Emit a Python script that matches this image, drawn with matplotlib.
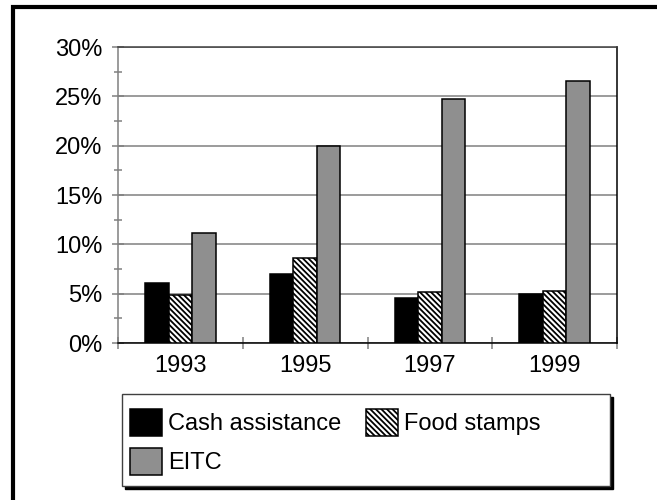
import matplotlib.pyplot as plt
import numpy as np
from matplotlib.lines import Line2D
from matplotlib.patches import Rectangle
from matplotlib.ticker import MultipleLocator, FuncFormatter

# данные с графика
years = ['1993', '1995', '1997', '1999']
cash = [6.1, 7.0, 4.6, 5.0]
food = [4.9, 8.6, 5.2, 5.3]
eitc = [11.1, 20.0, 24.7, 26.6]

plt.rcParams['font.family'] = ['Liberation Sans', 'DejaVu Sans']
plt.rcParams['hatch.linewidth'] = 1.3

W, H = 657, 500
fig = plt.figure(figsize=(W / 100, H / 100), dpi=100)
ax = fig.add_axes([118 / W, 1 - 343 / H, (617 - 118) / W, (343 - 47) / H])

x = np.arange(len(years))
bw = 0.188
b1 = ax.bar(x - bw, cash, bw, color='black', edgecolor='black', linewidth=1.1, zorder=3)
b2 = ax.bar(x, food, bw, color='white', edgecolor='black', linewidth=1.1,
            hatch='\\' * 6, zorder=3)
b3 = ax.bar(x + bw, eitc, bw, color='#8f8f8f', edgecolor='black', linewidth=1.1, zorder=3)

ax.set_xlim(-0.5, len(years) - 0.5)
ax.set_ylim(0, 30)

# оси и сетка
ax.yaxis.set_major_locator(MultipleLocator(5))
ax.yaxis.set_minor_locator(MultipleLocator(2.5))
ax.yaxis.set_major_formatter(FuncFormatter(lambda v, p: f'{v:.0f}%'))
ax.grid(axis='y', color='#808080', linewidth=1.1)
ax.set_axisbelow(True)

ax.set_xticks(x)
ax.set_xticklabels(years)
ax.set_xticks(np.arange(-0.5, len(years)), minor=True)
ax.tick_params(axis='x', which='major', length=0, pad=9, labelsize=17)
ax.tick_params(axis='x', which='minor', direction='inout', length=8,
               color='#808080', width=1.1)
ax.tick_params(axis='y', which='major', direction='inout', length=8, pad=7,
               color='#808080', width=1.1, labelsize=17)
ax.tick_params(axis='y', which='minor', direction='inout', length=6,
               color='#808080', width=1.1)

ax.spines['left'].set_color('#808080')
ax.spines['top'].set_color('#404040')
ax.spines['right'].set_color('black')
ax.spines['bottom'].set_color('black')
for s in ax.spines.values():
    s.set_linewidth(1.1)

# рамка легенды с тенью
lx0, ly0, lx1, ly1 = 122, 394, 610, 486
fig.add_artist(Rectangle(((lx0 + 3) / W, 1 - (ly1 + 3) / H), (lx1 - lx0) / W, (ly1 - ly0) / H,
                         transform=fig.transFigure, facecolor='black', edgecolor='black'))
fig.add_artist(Rectangle((lx0 / W, 1 - ly1 / H), (lx1 - lx0) / W, (ly1 - ly0) / H,
                         transform=fig.transFigure, facecolor='white', edgecolor='#404040',
                         linewidth=1.0))

leg = fig.legend([b1, b3, b2], ['Cash assistance', 'EITC', 'Food stamps'], ncol=2,
                 loc='upper left', bbox_to_anchor=(130 / W, 1 - 409 / H),
                 frameon=False, fontsize=17, borderpad=0, borderaxespad=0,
                 handlelength=1.36, handleheight=1.4, handletextpad=0.25,
                 columnspacing=1.05, labelspacing=0.48)
leg.set_zorder(5)

# внешняя рамка
fig.add_artist(Line2D([13 / W, 13 / W, 1.02], [-0.02, 1 - 7 / H, 1 - 7 / H],
                      transform=fig.transFigure, color='black', linewidth=3,
                      solid_joinstyle='miter'))

fig.savefig('out.png', dpi=100)
